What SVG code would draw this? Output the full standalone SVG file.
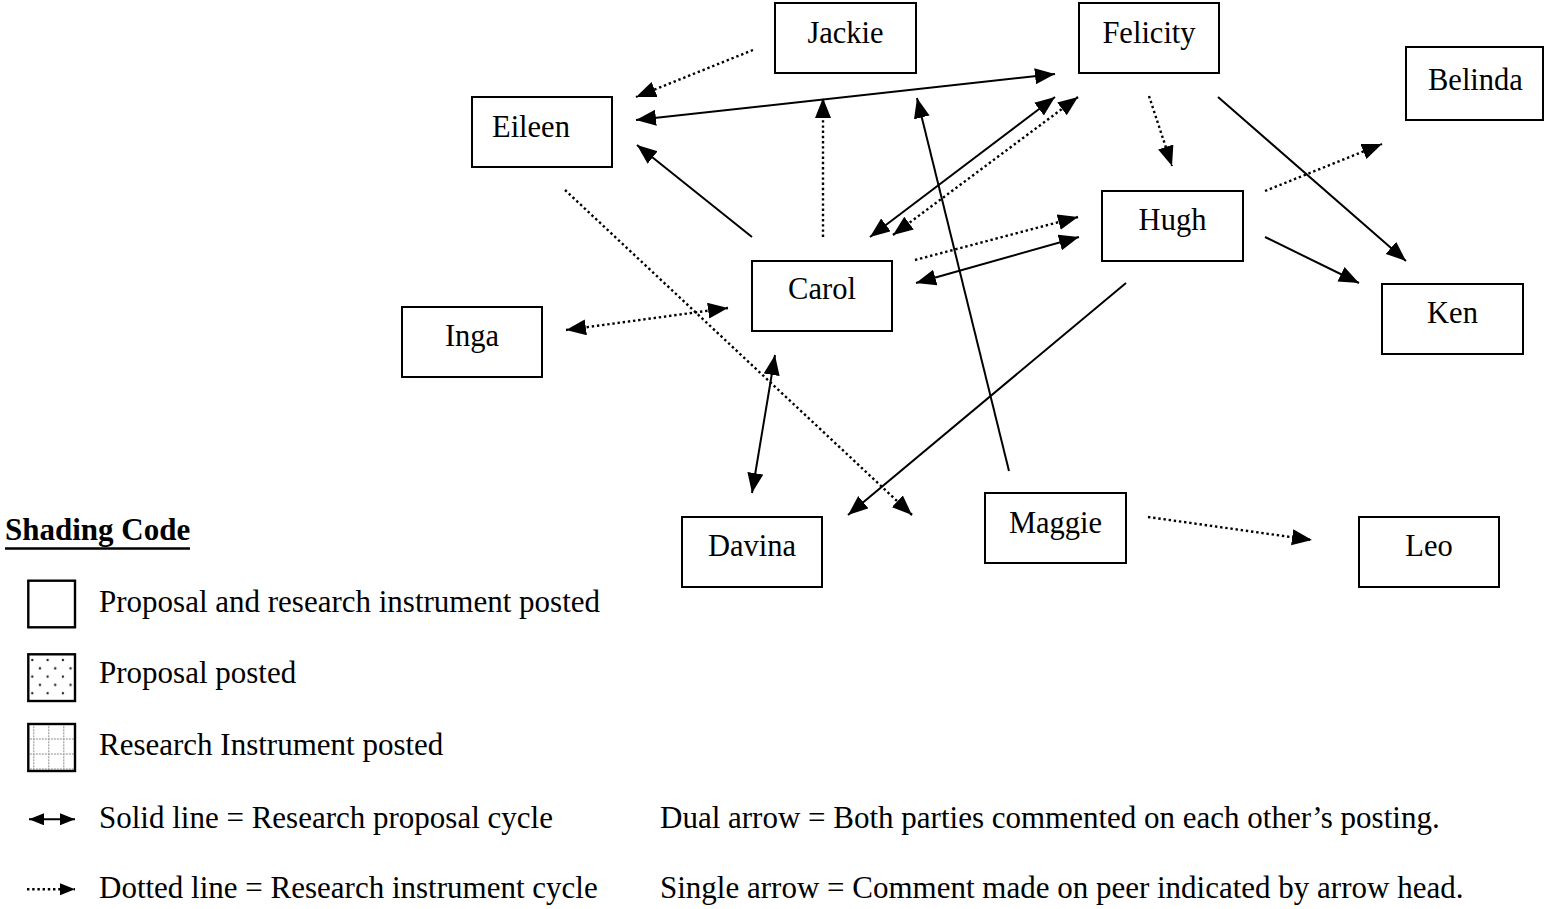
<svg xmlns="http://www.w3.org/2000/svg" width="1544" height="909" viewBox="0 0 1544 909">
<style>
  .box { fill: #ffffff; stroke: #000000; stroke-width: 2; }
  .lbl { font-family: "Liberation Serif", "Times New Roman", serif; font-size: 30.5px; fill: #000000; }
  .leg { font-family: "Liberation Serif", "Times New Roman", serif; font-size: 31px; fill: #000000; }
  .solid { fill: none; stroke: #000000; stroke-width: 2; }
  .dot { fill: none; stroke: #000000; stroke-width: 2.4; stroke-dasharray: 2.4 2.8; }
  .lbox { stroke: #000000; stroke-width: 2.4; }
</style>
<defs>
  <marker id="ah" markerUnits="userSpaceOnUse" markerWidth="21" markerHeight="17" refX="20" refY="8" orient="auto-start-reverse" viewBox="0 0 21 17">
    <path d="M0,0 L20,8 L0,16 Z" fill="#000000"/>
  </marker>
  <marker id="ahs" markerUnits="userSpaceOnUse" markerWidth="16" markerHeight="13" refX="15" refY="6" orient="auto-start-reverse" viewBox="0 0 16 13">
    <path d="M0,0 L15,6 L0,12 Z" fill="#000000"/>
  </marker>
  <pattern id="pDots" patternUnits="userSpaceOnUse" x="32.3" y="660" width="15.3" height="16.6">
    <circle cx="0" cy="0" r="1.2" fill="#222222"/>
    <circle cx="15.3" cy="0" r="1.2" fill="#222222"/>
    <circle cx="0" cy="16.6" r="1.2" fill="#222222"/>
    <circle cx="15.3" cy="16.6" r="1.2" fill="#222222"/>
    <circle cx="7.65" cy="8.3" r="1.2" fill="#222222"/>
  </pattern>
  <pattern id="pGrid" patternUnits="userSpaceOnUse" x="33.3" y="738.5" width="15" height="15">
    <line x1="0" y1="0" x2="0" y2="15" stroke="#222222" stroke-width="1.4" stroke-dasharray="1.4 1.6"/>
    <line x1="0" y1="0" x2="15" y2="0" stroke="#222222" stroke-width="1.4" stroke-dasharray="1.4 1.6"/>
  </pattern>
</defs>

<g id="connectors">
  <path class="dot" d="M753,50 L636,97" marker-end="url(#ah)"/>
  <path class="solid" d="M636,120 L1055,74" marker-start="url(#ah)" marker-end="url(#ah)"/>
  <path class="solid" d="M752,237 L637,145" marker-end="url(#ah)"/>
  <path class="dot" d="M823,237 L823,98" marker-end="url(#ah)"/>
  <path class="solid" d="M1009,471 L917,98" marker-end="url(#ah)"/>
  <path class="solid" d="M870,237 L1055,97" marker-start="url(#ah)" marker-end="url(#ah)"/>
  <path class="dot" d="M893,235 L1078,97" marker-start="url(#ah)" marker-end="url(#ah)"/>
  <path class="dot" d="M915,260 L1078,217" marker-end="url(#ah)"/>
  <path class="solid" d="M916,283 L1079,237" marker-start="url(#ah)" marker-end="url(#ah)"/>
  <path class="dot" d="M1149,96 L1172,166" marker-end="url(#ah)"/>
  <path class="solid" d="M1218,97 L1406,261" marker-end="url(#ah)"/>
  <path class="dot" d="M1265,191 L1382,144" marker-end="url(#ah)"/>
  <path class="solid" d="M1265,237 L1359,283" marker-end="url(#ah)"/>
  <path class="solid" d="M1126,283 L848,515" marker-end="url(#ah)"/>
  <path class="solid" d="M775,355 L752,493" marker-start="url(#ah)" marker-end="url(#ah)"/>
  <path class="dot" d="M565,190 L912,515" marker-end="url(#ah)"/>
  <path class="dot" d="M566,330 L728,308" marker-start="url(#ah)" marker-end="url(#ah)"/>
  <path class="dot" d="M1148,517 L1312,540" marker-end="url(#ah)"/>
</g>

<g id="node-jackie"><rect class="box" x="775" y="3" width="141" height="70"/><text class="lbl" x="845.5" y="43" text-anchor="middle">Jackie</text></g>
<g id="node-felicity"><rect class="box" x="1079" y="3" width="140" height="70"/><text class="lbl" x="1149" y="43" text-anchor="middle">Felicity</text></g>
<g id="node-eileen"><rect class="box" x="472" y="97" width="140" height="70"/><text class="lbl" x="492" y="137">Eileen</text></g>
<g id="node-belinda"><rect class="box" x="1406" y="47" width="137" height="73"/><text class="lbl" x="1428" y="90">Belinda</text></g>
<g id="node-hugh"><rect class="box" x="1102" y="191" width="141" height="70"/><text class="lbl" x="1172.5" y="230" text-anchor="middle">Hugh</text></g>
<g id="node-carol"><rect class="box" x="752" y="261" width="140" height="70"/><text class="lbl" x="822" y="299" text-anchor="middle">Carol</text></g>
<g id="node-ken"><rect class="box" x="1382" y="284" width="141" height="70"/><text class="lbl" x="1452.5" y="323" text-anchor="middle">Ken</text></g>
<g id="node-inga"><rect class="box" x="402" y="307" width="140" height="70"/><text class="lbl" x="472" y="346" text-anchor="middle">Inga</text></g>
<g id="node-maggie"><rect class="box" x="985" y="493" width="141" height="70"/><text class="lbl" x="1055.5" y="533" text-anchor="middle">Maggie</text></g>
<g id="node-davina"><rect class="box" x="682" y="517" width="140" height="70"/><text class="lbl" x="752" y="556" text-anchor="middle">Davina</text></g>
<g id="node-leo"><rect class="box" x="1359" y="517" width="140" height="70"/><text class="lbl" x="1429" y="556" text-anchor="middle">Leo</text></g>

<g id="legend">
  <text class="leg" x="5" y="540" font-weight="bold">Shading Code</text>
  <line x1="5" y1="548.5" x2="190" y2="548.5" stroke="#000000" stroke-width="2.5"/>
  <rect class="lbox" x="28.3" y="580.7" width="46.7" height="46.6" fill="#ffffff" stroke-width="2"/>
  <text class="leg" x="99" y="611.7">Proposal and research instrument posted</text>
  <rect class="lbox" x="28.3" y="654.3" width="46.7" height="46.7" fill="url(#pDots)"/>
  <text class="leg" x="99" y="683">Proposal posted</text>
  <rect class="lbox" x="28.3" y="724" width="46.7" height="47" fill="url(#pGrid)"/>
  <text class="leg" x="99" y="755">Research Instrument posted</text>
  <path class="solid" d="M29,819.3 L75,819.3" stroke-width="2.2" marker-start="url(#ahs)" marker-end="url(#ahs)"/>
  <text class="leg" x="99" y="828">Solid line = Research proposal cycle</text>
  <path class="dot" d="M27,889.3 L75,889.3" stroke-width="1.8" stroke-dasharray="1.8 2" marker-end="url(#ahs)"/>
  <text class="leg" x="99" y="898">Dotted line = Research instrument cycle</text>
  <text class="leg" x="660" y="828">Dual arrow = Both parties commented on each other’s posting.</text>
  <text class="leg" x="660" y="898">Single arrow = Comment made on peer indicated by arrow head.</text>
</g>
</svg>
